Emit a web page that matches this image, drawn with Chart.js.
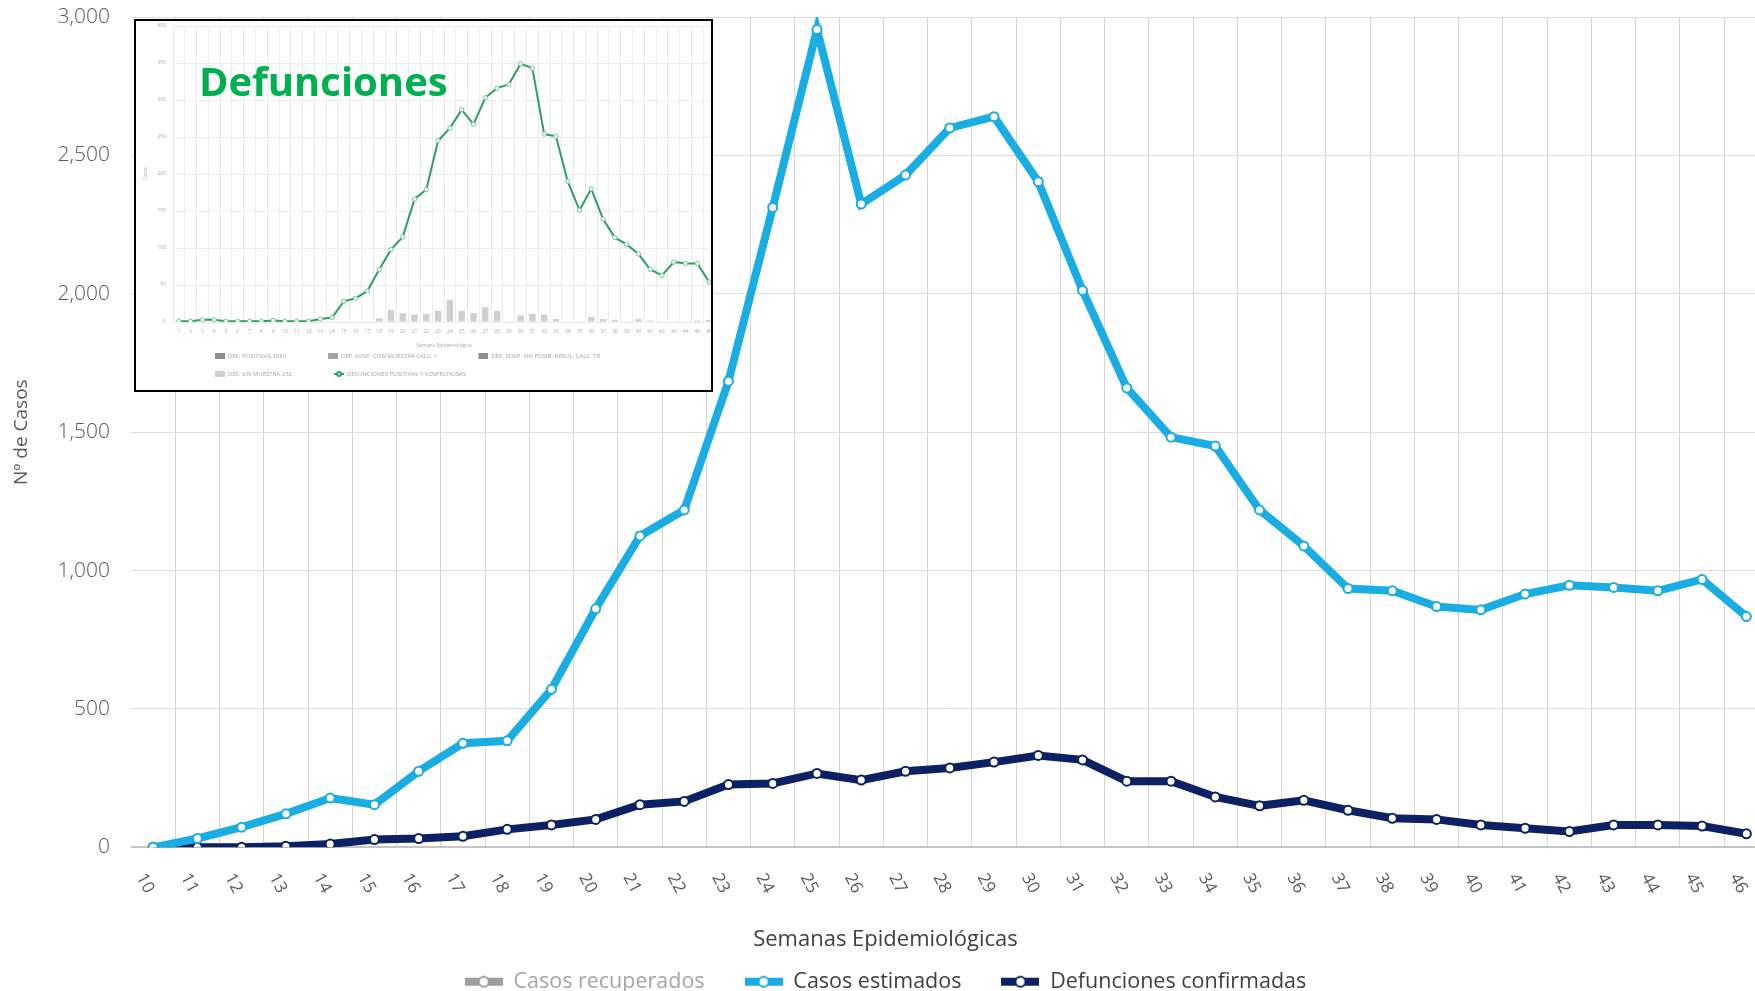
<!DOCTYPE html>
<html lang="es">
<head>
<meta charset="utf-8">
<title>Casos estimados y defunciones confirmadas</title>
<script src="https://cdn.jsdelivr.net/npm/chart.js@4.4.1/dist/chart.umd.min.js"></script>
<style>
  html, body { margin: 0; padding: 0; background: #fff; overflow: hidden; }
  #wrap { position: relative; width: 1775px; height: 991px; }
  #inset { position: absolute; left: 134px; top: 19px; width: 579px; height: 373px; border: 2px solid #000; box-sizing: border-box; background: #fff; overflow: hidden; }
  #insetChart { position: absolute; left: 0; top: 0; }
  #insetTitle { position: absolute; left: 63px; top: 40px; font: 700 40px/1 "Open Sans", sans-serif; color: #00b050; white-space: nowrap; }
</style>
</head>
<body>
<div id="wrap">
  <canvas id="mainChart" width="1775" height="991"></canvas>
  <div id="inset">
    <canvas id="insetChart" width="584" height="369"></canvas>
    <div id="insetTitle">Defunciones</div>
  </div>
</div>
<script>
// main chart: semanas 10-46
const semanas = ['10', '11', '12', '13', '14', '15', '16', '17', '18', '19', '20', '21', '22', '23', '24', '25', '26', '27', '28', '29', '30', '31', '32', '33', '34', '35', '36', '37', '38', '39', '40', '41', '42', '43', '44', '45', '46'];
const casosRecuperados = [];
const casosEstimados = [0, 32, 73, 121, 178, 154, 275, 376, 385, 571, 862, 1125, 1219, 1684, 2312, 2955, 2324, 2429, 2599, 2640, 2405, 2012, 1660, 1482, 1450, 1219, 1089, 935, 927, 870, 858, 915, 947, 939, 927, 968, 834];
const defuncionesConfirmadas = [0, 0, 0, 4, 12, 28, 32, 40, 65, 81, 101, 154, 166, 227, 231, 267, 243, 275, 287, 308, 332, 316, 239, 239, 182, 150, 170, 134, 105, 101, 81, 69, 57, 81, 81, 77, 49];

// inset (defunciones por semana 1-46)
const insetSemanas = ['1', '2', '3', '4', '5', '6', '7', '8', '9', '10', '11', '12', '13', '14', '15', '16', '17', '18', '19', '20', '21', '22', '23', '24', '25', '26', '27', '28', '29', '30', '31', '32', '33', '34', '35', '36', '37', '38', '39', '40', '41', '42', '43', '44', '45', '46'];
const insetDefunciones = [1, 1, 3, 3, 1, 1, 1, 1, 2, 1, 1, 1, 4, 6, 28, 32, 42, 71, 98, 115, 166, 179, 245, 262, 287, 267, 303, 316, 321, 349, 343, 254, 251, 190, 151, 180, 139, 114, 105, 92, 71, 63, 81, 79, 79, 54];
const insetSinMuestra = [0, 0, 0, 0, 0, 0, 0, 0, 0, 0, 0, 0, 0, 0, 0, 0, 0, 5, 16, 12, 10, 11, 15, 30, 15, 12, 20, 15, 1, 9, 11, 10, 4, 1, 1, 7, 4, 3, 1, 4, 2, 0, 0, 0, 2, 3];

Chart.defaults.font.family = "'Open Sans', sans-serif";

// legend icon: bar with a white dot (optional empty space in front)
function lineIcon(color, lead, w, h, r) {
  const c = document.createElement('canvas');
  c.width = lead + w;
  c.height = Math.max(h, 2 * r + 4);
  const g = c.getContext('2d');
  const cy = c.height / 2;
  g.fillStyle = color;
  g.fillRect(lead, cy - h / 2, w, h);
  g.beginPath();
  g.arc(lead + w / 2, cy, r, 0, Math.PI * 2);
  g.fillStyle = '#fff';
  g.fill();
  g.lineWidth = 2;
  g.strokeStyle = color;
  g.stroke();
  return c;
}

function boxIcon(color, lead, w, h) {
  const c = document.createElement('canvas');
  c.width = lead + w;
  c.height = h;
  const g = c.getContext('2d');
  g.fillStyle = color;
  g.fillRect(lead, 0, w, h);
  return c;
}

// week labels slanted clockwise (reading downwards), drawn at the x scale's tick pixels
const slantedTicks = {
  id: 'slantedTicks',
  afterDraw(chart) {
    const xs = chart.scales.x;
    const ctx = chart.ctx;
    ctx.save();
    ctx.font = "17px 'Open Sans', sans-serif";
    ctx.fillStyle = '#595959';
    ctx.textAlign = 'center';
    ctx.textBaseline = 'middle';
    xs.ticks.forEach((t, i) => {
      ctx.save();
      ctx.translate(xs.getPixelForTick(i) - 8, xs.top + 36);
      ctx.rotate(62 * Math.PI / 180);
      ctx.fillText(xs.getLabelForValue(t.value), 0, 0);
      ctx.restore();
    });
    ctx.restore();
  }
};

new Chart(document.getElementById('mainChart'), {
  type: 'line',
  data: {
    labels: semanas,
    datasets: [
      {
        label: 'Casos recuperados',
        data: casosRecuperados,
        borderColor: '#9e9e9e',
        backgroundColor: '#9e9e9e'
      },
      {
        label: 'Casos estimados',
        data: casosEstimados,
        borderColor: '#1aade4',
        backgroundColor: '#1aade4',
        borderWidth: 8,
        pointRadius: 4.5,
        pointBorderWidth: 2,
        pointBackgroundColor: '#fff',
        pointBorderColor: '#1aade4'
      },
      {
        label: 'Defunciones confirmadas',
        data: defuncionesConfirmadas,
        borderColor: '#0b2163',
        backgroundColor: '#0b2163',
        borderWidth: 8,
        pointRadius: 4.5,
        pointBorderWidth: 2,
        pointBackgroundColor: '#fff',
        pointBorderColor: '#0b2163'
      }
    ]
  },
  options: {
    responsive: false,
    animation: false,
    devicePixelRatio: 1,
    locale: 'en-US',
    layout: { padding: { left: 0, right: 4, top: 0, bottom: 0 } },
    scales: {
      x: {
        offset: true,
        afterFit: scale => { scale.paddingLeft = 0; scale.paddingRight = 0; },
        grid: {
          offset: true,
          drawTicks: false,
          color: ctx => ctx.index === 0 ? 'rgba(0,0,0,0)' : '#d4d4d4'
        },
        border: { display: false },
        ticks: {
          autoSkip: false,
          minRotation: 70,
          maxRotation: 70,
          padding: 14,
          color: 'rgba(0,0,0,0)',
          font: { size: 17 }
        }
      },
      y: {
        min: 0,
        max: 3000,
        afterFit: scale => {
          scale.width = 131;
          scale.paddingTop = 17;
          scale.paddingBottom = 12;
        },
        grid: {
          drawTicks: false,
          color: ctx => ctx.tick && ctx.tick.value === 0 ? '#c4c4c4' : '#dcdcdc',
          lineWidth: ctx => ctx.tick && ctx.tick.value === 0 ? 2 : 1
        },
        border: { display: false },
        ticks: {
          stepSize: 500,
          padding: 21,
          color: '#595959',
          font: { size: 21, weight: 300 }
        },
        title: {
          display: true,
          text: 'Nº de Casos',
          color: '#595959',
          font: { size: 19 },
          padding: { top: 10, bottom: 0 }
        }
      }
    },
    plugins: {
      tooltip: { enabled: false },
      title: {
        display: true,
        text: 'Semanas Epidemiológicas',
        position: 'bottom',
        weight: 500,
        color: '#404040',
        font: { size: 22, weight: 400 },
        padding: { top: 26, bottom: -22 }
      },
      legend: {
        position: 'bottom',
        maxHeight: 60,
        labels: {
          usePointStyle: true,
          pointStyleWidth: 38,
          boxHeight: 8,
          padding: 40,
          font: { size: 21.5 },
          generateLabels: chart => chart.data.datasets.map((ds, i) => ({
            text: ds.label,
            datasetIndex: i,
            hidden: false,
            fontColor: i === 0 ? '#a6a6a6' : '#404040',
            pointStyle: lineIcon(ds.borderColor, 0, 38, 8, 5),
            fillStyle: ds.borderColor,
            strokeStyle: ds.borderColor,
            lineWidth: 0
          }))
        }
      }
    }
  },
  plugins: [slantedTicks]
});

new Chart(document.getElementById('insetChart'), {
  type: 'bar',
  data: {
    labels: insetSemanas,
    datasets: [
      { label: 'DEF. POSITIVAS 3080', data: [], backgroundColor: '#8c8c8c', grouped: false, order: 1 },
      { label: 'DEF. SOSP. CON MUESTRA CALC. ?', data: [], backgroundColor: '#a3a3a3', grouped: false, order: 1 },
      { label: 'DEF. SOSP. SIN POSIB. RESUL. CALC. TR', data: [], backgroundColor: '#8c8c8c', grouped: false, order: 1 },
      { label: 'DEF. SIN MUESTRA 252', data: insetSinMuestra, backgroundColor: '#cfcfcf', grouped: false, order: 1, barPercentage: 0.55, categoryPercentage: 1 },
      {
        type: 'line',
        label: 'DEFUNCIONES POSITIVAS Y SOSPECHOSAS',
        data: insetDefunciones,
        order: 0,
        borderColor: '#2f9e5f',
        backgroundColor: '#2f9e5f',
        borderWidth: 2,
        pointRadius: 2.2,
        pointBorderWidth: 1,
        pointBackgroundColor: '#eef8f1',
        pointBorderColor: '#7cc79a'
      }
    ]
  },
  options: {
    responsive: false,
    animation: false,
    devicePixelRatio: 1,
    layout: { padding: { left: 0, right: 4, top: 0, bottom: 3 } },
    scales: {
      x: {
        afterFit: scale => { scale.paddingLeft = 0; scale.paddingRight = 0; },
        grid: { color: '#ebebeb', drawTicks: false },
        border: { display: false },
        ticks: { autoSkip: false, maxRotation: 0, padding: 7, color: '#a8a8a8', font: { size: 5 } },
        title: { display: true, text: 'Semana Epidemiológica', color: '#a8a8a8', font: { size: 5 }, padding: { top: 1, bottom: -8 } }
      },
      y: {
        min: 0,
        max: 400,
        afterFit: scale => {
          scale.width = 37;
          scale.paddingTop = 4;
          scale.paddingBottom = 3;
        },
        grid: { color: '#ebebeb', drawTicks: false },
        border: { display: false },
        ticks: { stepSize: 50, padding: 7, color: '#a8a8a8', font: { size: 5 } },
        title: { display: true, text: 'Casos', color: '#a8a8a8', font: { size: 5 }, padding: { top: 7, bottom: 0 } }
      }
    },
    plugins: {
      tooltip: { enabled: false },
      legend: {
        position: 'bottom',
        fullSize: false,
        align: 'start',
        labels: {
          usePointStyle: true,
          pointStyleWidth: 40,
          boxHeight: 6,
          padding: 12,
          font: { size: 6 },
          generateLabels: chart => chart.data.datasets.map((ds, i) => ({
            text: ds.label,
            datasetIndex: i,
            hidden: false,
            fontColor: '#a3a3a3',
            pointStyle: ds.type === 'line' ? lineIcon('#2f9e5f', 30, 10, 2, 2) : boxIcon(ds.backgroundColor, 30, 10, 6),
            fillStyle: ds.backgroundColor,
            strokeStyle: ds.backgroundColor,
            lineWidth: 0
          }))
        }
      }
    }
  }
});
</script>
</body>
</html>
